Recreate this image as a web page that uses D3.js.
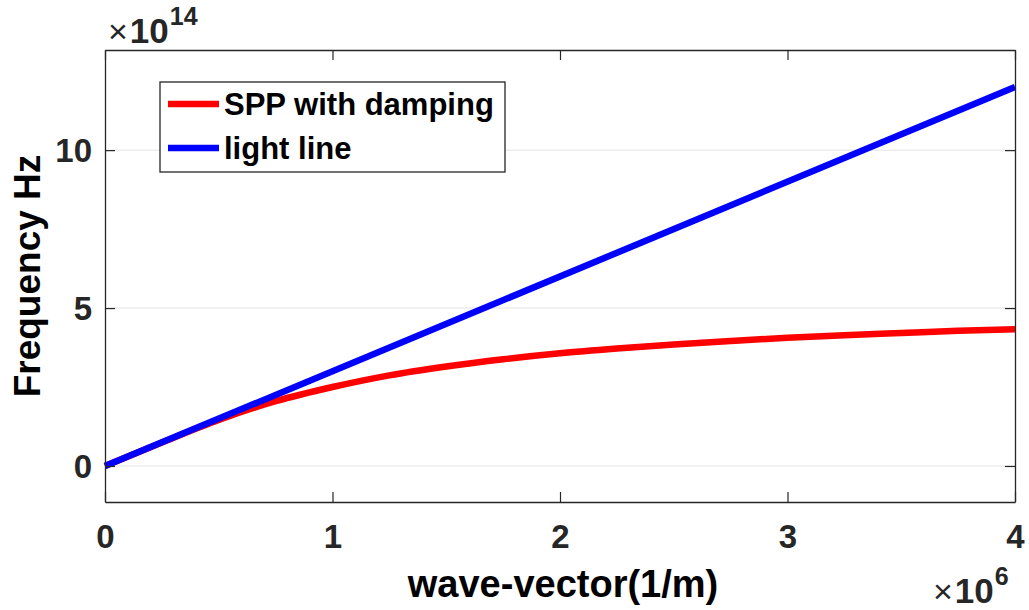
<!DOCTYPE html>
<html><head><meta charset="utf-8">
<script src="https://cdn.jsdelivr.net/npm/d3@7"></script>
<style>body{margin:0;background:#fff}svg{display:block}text{font-family:"Liberation Sans",Arial,sans-serif}</style>
</head><body>
<svg id="c" width="1029" height="610"></svg>
<script>
// data (x in units of 1e6 1/m, y in units of 1e14 Hz)
const sppK = [0, 0.25, 0.5, 0.75, 1.0, 1.25, 1.5, 1.75, 2.0, 2.25, 2.5, 2.75, 3.0, 3.25, 3.5, 3.75, 4.0];
const sppF = [0, 0.745, 1.46, 2.05, 2.5, 2.87, 3.15, 3.38, 3.57, 3.72, 3.85, 3.96, 4.06, 4.14, 4.21, 4.28, 4.33];
const lightK = [0, 4];
const lightF = [0, 12];
const xTicks = [0, 1, 2, 3, 4];
const yTicks = [0, 5, 10];
const seriesNames = ["SPP with damping", "light line"];
const seriesColors = ["#ff0000", "#0000ff"];

const svg = d3.select("#c");
const L = 105, R = 1015, T = 50, B = 502;
const x = d3.scaleLinear().domain([0, 4]).range([L, R]);
const y = d3.scaleLinear().domain([-1.14, 13.17]).range([B, T]);
const axC = "#262626";

// grid
svg.append("g").selectAll("line").data(yTicks).join("line")
  .attr("x1", L).attr("x2", R).attr("y1", d => y(d)).attr("y2", d => y(d))
  .attr("stroke", "#e3e3e3").attr("stroke-width", 1);

// lines
const line = d3.line().x(d => x(d[0])).y(d => y(d[1])).curve(d3.curveMonotoneX);
const plot = svg.append("g");
plot.append("path").datum(sppK.map((k, i) => [k, sppF[i]]))
  .attr("d", line).attr("fill", "none").attr("stroke", seriesColors[0]).attr("stroke-width", 6.5);
plot.append("path").datum(lightK.map((k, i) => [k, lightF[i]]))
  .attr("d", line).attr("fill", "none").attr("stroke", seriesColors[1]).attr("stroke-width", 6.5);

// axes
const tl = 10;
const fmt = d3.format("d");
const xb = svg.append("g").attr("transform", `translate(0,${B})`)
  .call(d3.axisBottom(x).tickValues(xTicks).tickSizeInner(-tl).tickSizeOuter(0).tickPadding(22).tickFormat(fmt));
const xt = svg.append("g").attr("transform", `translate(0,${T})`)
  .call(d3.axisTop(x).tickValues(xTicks).tickSizeInner(-tl).tickSizeOuter(0).tickFormat(""));
const yl = svg.append("g").attr("transform", `translate(${L},0)`)
  .call(d3.axisLeft(y).tickValues(yTicks).tickSizeInner(-tl).tickSizeOuter(0).tickPadding(24).tickFormat(fmt));
const yr = svg.append("g").attr("transform", `translate(${R},0)`)
  .call(d3.axisRight(y).tickValues(yTicks).tickSizeInner(-tl).tickSizeOuter(0).tickFormat(""));
[xb, xt, yl, yr].forEach(g => {
  g.select(".domain").attr("stroke", axC).attr("stroke-width", 1.3);
  g.selectAll(".tick line").attr("stroke", axC).attr("stroke-width", 1.2);
  g.selectAll(".tick text").attr("fill", axC).attr("font-size", 33).attr("font-weight", "bold")
   .attr("font-family", "Liberation Sans, Arial, sans-serif");
});
xb.selectAll(".tick text").attr("dy", "0.71em").attr("y", 23);
yl.selectAll(".tick text").attr("dy", "0.35em").attr("x", -13);

// axis labels
svg.append("text").attr("x", (L + R) / 2 + 3).attr("y", 597).attr("text-anchor", "middle")
  .attr("font-size", 38).attr("font-weight", "bold").attr("fill", "#000").text("wave-vector(1/m)");
svg.append("text").attr("transform", `translate(40,${(T + B) / 2}) rotate(-90)`).attr("text-anchor", "middle")
  .attr("font-size", 37).attr("font-weight", "bold").attr("fill", "#000").text("Frequency Hz");

// exponent labels
function expo(xp, yb, e) {
  const t = svg.append("text").attr("x", xp).attr("y", yb).attr("fill", axC);
  t.append("tspan").attr("font-size", 34).text("\u00D7");
  t.append("tspan").attr("font-size", 35).attr("font-weight", "bold").attr("dx", 2).text("10");
  t.append("tspan").attr("font-size", 25).attr("font-weight", "bold").attr("dx", 1).attr("dy", -18).text(e);
}
expo(108, 43, "14");
expo(933, 603, "6");

// legend
const lg = svg.append("g");
lg.append("rect").attr("x", 160).attr("y", 82).attr("width", 345).attr("height", 90)
  .attr("fill", "#fff").attr("stroke", axC).attr("stroke-width", 1.3);
const ly = [104, 148];
seriesNames.forEach((n, i) => {
  lg.append("line").attr("x1", 168).attr("x2", 219).attr("y1", ly[i]).attr("y2", ly[i])
    .attr("stroke", seriesColors[i]).attr("stroke-width", 6.5);
  lg.append("text").attr("x", 224).attr("y", ly[i] + 11).attr("font-size", 31).attr("font-weight", "bold")
    .attr("fill", "#000").text(n);
});
</script>
</body></html>
